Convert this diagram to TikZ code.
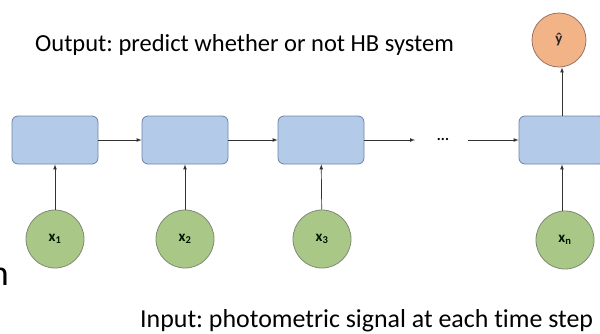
\documentclass[tikz,border=0pt]{standalone}
\usepackage{fontspec}
\setmainfont{Carlito}[Ligatures=NoCommon]
\usepackage{xcolor}
\usepackage{tikz}
\usetikzlibrary{arrows.meta}
\usetikzlibrary{positioning}
\frenchspacing

\definecolor{cellblue}{HTML}{B3CBE8}
\definecolor{cellline}{HTML}{6F84A8}
\definecolor{ingreen}{HTML}{A9C786}
\definecolor{inline}{HTML}{7E8A72}
\definecolor{outorange}{HTML}{F2B387}
\definecolor{outline}{HTML}{9A7266}

\begin{document}
\begin{tikzpicture}[x=1pt, y=-1pt,
    cell/.style={draw=cellline, fill=cellblue, line width=0.8pt, rounded corners=6pt,
                 minimum width=86pt, minimum height=48pt, inner sep=0},
    xin/.style={circle, draw=inline, fill=ingreen, line width=0.8pt,
                minimum size=58pt, inner sep=0, font=\fontsize{15}{15}\selectfont\bfseries, text=black!80!green!40!black},
    yout/.style={circle, draw=outline, fill=outorange, line width=0.8pt,
                 minimum size=54pt, inner sep=0, font=\fontsize{15}{15}\selectfont\bfseries, text=black!85},
    caption/.style={inner sep=0, anchor=base west},
    link/.style={->, >=latex, line width=0.7pt, draw=black!80}
  ]
  \useasboundingbox (0,0) rectangle (600,333);

  % cells
  \node [cell] (h1) at (55,140) {};
  \node [cell] (h2) at (185,140) {};
  \node [cell] (h3) at (321,140) {};
  \node [cell] (hn) at (562,140) {};

  % inputs
  \node [xin] (x1) at (55,239) {x\textsubscript{1}};
  \node [xin] (x2) at (185,239) {x\textsubscript{2}};
  \node [xin] (x3) at (322,239) {x\textsubscript{3}};
  \node [xin] (xn) at (565,240) {x\textsubscript{n}};

  % output
  \node [yout] (yhat) at (559,40) {\^y};

  % dots
  \node [font=\fontsize{15}{15}\selectfont\bfseries] (dots) at (443,139) {...};
  \coordinate (dotsL) at (415,140);
  \coordinate (dotsR) at (468,140);

  \draw [link] (h1) -- (h2);
  \draw [link] (h2) -- (h3);
  \draw [link] (h3) -- (dotsL);
  \draw [link] (dotsR) -- (hn);
  \draw [link] (x1) -- (h1);
  \draw [link] (x2) -- (h2);
  \draw [link] (x3) -- (h3);
  \draw [link] (xn.north -| hn) -- (hn);
  \draw [link] (hn) -- (hn |- yhat.south);

  % texts
  \node [caption, font=\fontsize{24.5}{24.5}\selectfont] (outtxt) at (35,51) {Output: predict whether or not HB system};
  \node [caption, font=\fontsize{25.9}{25.9}\selectfont] (intxt) at (140,327) {Input: photometric signal at each time step};
  \node [font=\fontsize{36}{36}\selectfont, inner sep=0, anchor=base east] (cut) at (9,285) {n};
\end{tikzpicture}
\end{document}
